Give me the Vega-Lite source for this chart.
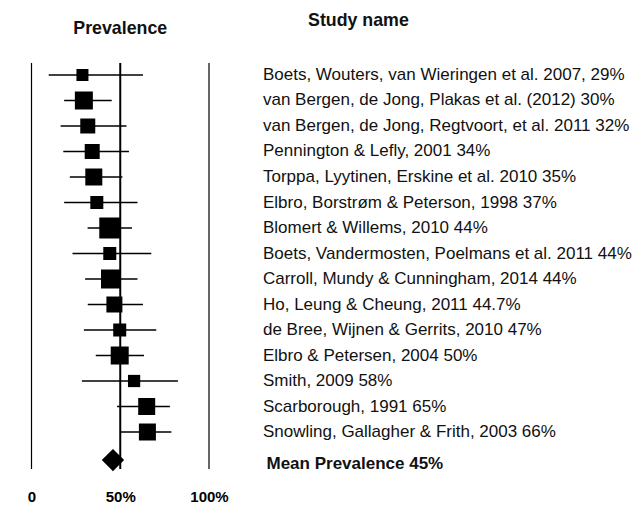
{
  "$schema": "https://vega.github.io/schema/vega-lite/v6.json",
  "width": 641,
  "height": 475,
  "padding": 0,
  "autosize": {"type": "pad"},
  "background": "white",
  "config": {"view": {"stroke": null}, "font": "Liberation Sans"},
  "datasets": {
    "studies": [
      {"row": 1, "label": "Boets, Wouters, van Wieringen et al. 2007, 29%", "est": 28.7, "lo": 9.7, "hi": 62.8, "weight": 144},
      {"row": 2, "label": "van Bergen, de Jong, Plakas et al. (2012) 30%", "est": 29.5, "lo": 18.4, "hi": 45.2, "weight": 324},
      {"row": 3, "label": "van Bergen, de Jong, Regtvoort, et al. 2011 32%", "est": 31.7, "lo": 16.4, "hi": 53.5, "weight": 225},
      {"row": 4, "label": "Pennington & Lefly, 2001 34%", "est": 34.2, "lo": 17.9, "hi": 54.9, "weight": 225},
      {"row": 5, "label": "Torppa, Lyytinen, Erskine et al. 2010 35%", "est": 35.1, "lo": 21.6, "hi": 51.2, "weight": 289},
      {"row": 6, "label": "Elbro, Borstrøm & Peterson, 1998 37%", "est": 36.8, "lo": 18.4, "hi": 59.7, "weight": 169},
      {"row": 7, "label": "Blomert & Willems, 2010 44%", "est": 44.1, "lo": 31.6, "hi": 56.6, "weight": 441},
      {"row": 8, "label": "Boets, Vandermosten, Poelmans et al. 2011 44%", "est": 44.1, "lo": 23.1, "hi": 67.5, "weight": 169},
      {"row": 9, "label": "Carroll, Mundy & Cunningham, 2014 44%", "est": 44.5, "lo": 30.2, "hi": 59.7, "weight": 361},
      {"row": 10, "label": "Ho, Leung & Cheung, 2011 44.7%", "est": 46.7, "lo": 31.7, "hi": 62.8, "weight": 256},
      {"row": 11, "label": "de Bree, Wijnen & Gerrits, 2010 47%", "est": 49.7, "lo": 29.5, "hi": 70.3, "weight": 169},
      {"row": 12, "label": "Elbro & Petersen, 2004 50%", "est": 49.7, "lo": 36.2, "hi": 63.4, "weight": 324},
      {"row": 13, "label": "Smith, 2009 58%", "est": 57.8, "lo": 28.4, "hi": 82.5, "weight": 150},
      {"row": 14, "label": "Scarborough, 1991 65%", "est": 64.9, "lo": 48.2, "hi": 78.0, "weight": 289},
      {"row": 15, "label": "Snowling, Gallagher & Frith, 2003 66%", "est": 65.3, "lo": 50.1, "hi": 78.8, "weight": 289}
    ],
    "mean": [{"row": 16.1, "label": "Mean Prevalence 45%", "est": 45.9}],
    "refs": [{"ref": 0}, {"ref": 100}],
    "mid": [{"ref": 50}],
    "headers": [{"prev": "Prevalence", "study": "Study name"}]
  },
  "layer": [
    {
      "data": {"name": "refs"},
      "mark": {"type": "rule", "color": "black", "strokeWidth": 1.2},
      "encoding": {
        "x": {"field": "ref", "type": "quantitative",
              "scale": {"domain": [-17.75, 343.4], "nice": false, "zero": false},
              "axis": {"values": [0, 50, 100], "labelExpr": "datum.value == 0 ? '0' : datum.value + '%'",
                       "domain": false, "ticks": false, "grid": false, "title": null,
                       "labelFontWeight": "bold", "labelFontSize": 15, "labelPadding": 14,
                       "labelColor": "black", "labelFont": "Liberation Sans"}},
        "y": {"datum": 0.53, "type": "quantitative",
              "scale": {"domain": [-1.941, 16.686], "reverse": true, "nice": false, "zero": false},
              "axis": null},
        "y2": {"datum": 16.45}
      }
    },
    {
      "data": {"name": "mid"},
      "mark": {"type": "rule", "color": "black", "strokeWidth": 2},
      "encoding": {
        "x": {"field": "ref", "type": "quantitative"},
        "y": {"datum": 0.53, "type": "quantitative"},
        "y2": {"datum": 16.45}
      }
    },
    {
      "data": {"name": "studies"},
      "mark": {"type": "rule", "color": "black", "strokeWidth": 1.6},
      "encoding": {
        "x": {"field": "lo", "type": "quantitative"},
        "x2": {"field": "hi"},
        "y": {"field": "row", "type": "quantitative"}
      }
    },
    {
      "data": {"name": "studies"},
      "mark": {"type": "point", "shape": "square", "filled": true, "color": "black", "opacity": 1},
      "encoding": {
        "x": {"field": "est", "type": "quantitative"},
        "y": {"field": "row", "type": "quantitative"},
        "size": {"field": "weight", "type": "quantitative",
                 "scale": {"type": "linear", "domain": [0, 400], "range": [0, 400], "zero": true}, "legend": null}
      }
    },
    {
      "data": {"name": "mean"},
      "mark": {"type": "point", "shape": "diamond", "filled": true, "color": "black", "opacity": 1, "size": 500},
      "encoding": {
        "x": {"field": "est", "type": "quantitative"},
        "y": {"field": "row", "type": "quantitative"}
      }
    },
    {
      "data": {"name": "studies"},
      "mark": {"type": "text", "align": "left", "baseline": "middle", "fontSize": 17, "color": "#111", "font": "Liberation Sans"},
      "encoding": {
        "x": {"datum": 130.4, "type": "quantitative"},
        "y": {"field": "row", "type": "quantitative"},
        "text": {"field": "label"}
      }
    },
    {
      "data": {"name": "mean"},
      "mark": {"type": "text", "align": "left", "baseline": "middle", "fontSize": 17, "fontWeight": "bold", "color": "#111", "font": "Liberation Sans"},
      "encoding": {
        "x": {"datum": 132.4, "type": "quantitative"},
        "y": {"datum": 16.25, "type": "quantitative"},
        "text": {"field": "label"}
      }
    },
    {
      "data": {"name": "headers"},
      "mark": {"type": "text", "align": "center", "baseline": "middle", "fontSize": 17.8, "fontWeight": "bold", "color": "#111", "font": "Liberation Sans"},
      "encoding": {
        "x": {"datum": 50, "type": "quantitative"},
        "y": {"datum": -0.8, "type": "quantitative"},
        "text": {"field": "prev"}
      }
    },
    {
      "data": {"name": "headers"},
      "mark": {"type": "text", "align": "left", "baseline": "middle", "fontSize": 17.8, "fontWeight": "bold", "color": "#111", "font": "Liberation Sans"},
      "encoding": {
        "x": {"datum": 155.8, "type": "quantitative"},
        "y": {"datum": -1.1, "type": "quantitative"},
        "text": {"field": "study"}
      }
    }
  ]
}
